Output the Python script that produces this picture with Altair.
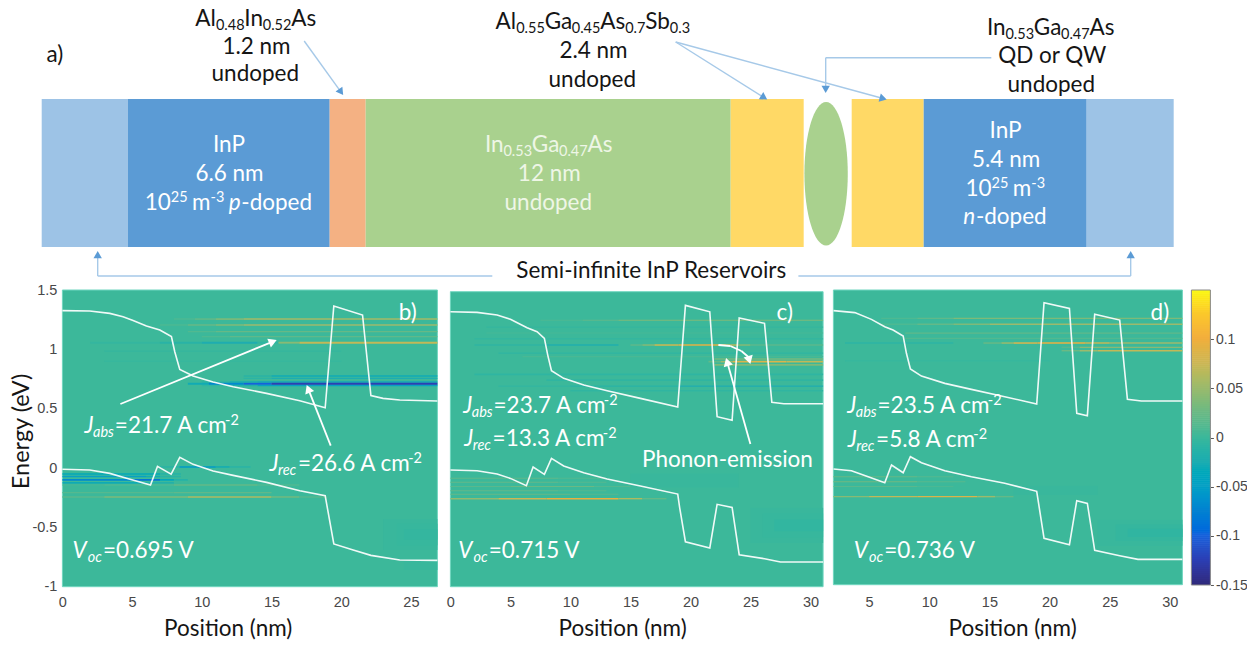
import math, re
import altair as alt
import pandas as pd

# ---------- colour scale ----------
CB_STOPS = [-0.15,-0.125,-0.1,-0.075,-0.05,-0.025,0,0.025,0.05,0.075,0.1,0.125,0.15]
CB_COLORS = ["#2f2a7d","#2a3fb5","#1462dc","#0a82d0","#08a0c4","#1eadb0","#3cb89a",
             "#6bb984","#9cba6c","#cdb654","#f2ae3c","#fbc82a","#f9fb15"]
CB_TICKS = [-0.15,-0.1,-0.05,0,0.05,0.1]
cscale = alt.Scale(domain=CB_STOPS, range=CB_COLORS, clamp=True)

# ---------- band edges, (position nm, energy eV) ----------
b_cb_x = [0,1.96,3.4,4.35,5.07,6.03,6.99,7.82,8.06,8.42,9.38,10.81,12.25,14.64,17.03,18.85,19.47,21.53,22.13,23.0,24.2,26.9]
b_cb_e = [1.326,1.323,1.303,1.275,1.242,1.197,1.163,1.107,0.98,0.831,0.775,0.725,0.685,0.629,0.567,0.508,1.365,1.289,0.61,0.587,0.573,0.565]
b_vb_x = [0,1.96,3.4,4.6,6.32,6.82,7.8,8.42,9.38,10.81,12.25,14.64,17.03,18.85,19.47,20.86,22.13,24.2,26.9]
b_vb_e = [-0.011,-0.017,-0.045,-0.087,-0.143,0.014,-0.051,0.09,0.031,-0.025,-0.062,-0.121,-0.191,-0.233,-0.64,-0.691,-0.736,-0.775,-0.778]

c_cb_x = [0,2.22,3.89,5.0,6.39,7.22,7.83,8.11,8.42,9.44,11.11,13.06,15.83,18.94,19.58,21.61,22.22,23.47,24.06,26.17,26.78,27.78,31.05]
c_cb_e = [1.33,1.325,1.302,1.266,1.195,1.161,1.105,0.963,0.83,0.766,0.709,0.661,0.596,0.523,1.384,1.33,0.441,0.41,1.277,1.232,0.562,0.551,0.551]
c_vb_x = [0,2.22,3.89,5.0,6.33,6.89,7.83,8.42,9.44,11.11,13.06,15.83,18.94,19.1,19.58,21.61,22.22,23.47,24.06,26.17,27.5,31.05]
c_vb_e = [-0.011,-0.017,-0.045,-0.082,-0.144,0.014,-0.048,0.088,0.023,-0.034,-0.088,-0.147,-0.215,-0.33,-0.619,-0.672,-0.302,-0.328,-0.729,-0.763,-0.791,-0.791]

d_cb_x = [2.04,3.81,5.19,6.3,6.99,7.83,8.1,8.43,9.35,11.29,13.5,16.27,18.93,19.54,21.65,22.26,23.14,23.75,25.83,26.47,27.63,31.04]
d_cb_e = [1.325,1.308,1.251,1.189,1.161,1.11,0.963,0.83,0.77,0.708,0.657,0.595,0.533,1.393,1.344,0.454,0.434,1.294,1.245,0.572,0.558,0.558]
d_vb_x = [2.04,3.53,4.92,6.3,6.86,7.83,8.43,9.35,11.29,13.5,16.27,18.93,19.54,21.65,22.26,23.14,23.75,25.83,27.35,31.04]
d_vb_e = [-0.019,-0.033,-0.084,-0.135,0.015,-0.05,0.086,0.035,-0.033,-0.084,-0.14,-0.208,-0.607,-0.661,-0.287,-0.31,-0.709,-0.754,-0.785,-0.785]

# ---------- spectral stripes: (energy, thickness, [(x0, x1, value), ...]) ----------
b_stripes = [
 (-0.56,0.26,[(23,26.9,-0.0015)]), (-0.56,0.18,[(24,26.9,-0.003)]), (-0.56,0.09,[(24.5,26.9,-0.005)]), (-0.82,0.08,[(24.5,26.9,-0.0015)]),
 (1.255,0.012,[(8,9.5,0.008),(9.5,11,0.022),(11,13,0.04),(13,26.9,0.055)]), (1.205,0.012,[(7,9,0.008),(9,11,0.022),(11,13,0.038),(13,26.9,0.05)]),
 (1.149,0.012,[(9,11,0.01),(11,26.9,0.022)]), (1.107,0.012,[(10,12,0.008),(12,26.9,0.018)]),
 (1.056,0.016,[(2,7,-0.005),(7,10,-0.012),(10,14,-0.025),(14,15.5,-0.008),(15.5,17,0.04),(17,26.9,0.07)]),
 (0.985,0.012,[(3,20,-0.004)]), (0.90,0.012,[(3,20,-0.003)]),
 (0.775,0.012,[(13,15,-0.012),(15,26.9,-0.03)]), (0.755,0.010,[(13,15,-0.01),(15,26.9,-0.025)]),
 (0.725,0.010,[(10,12,-0.012),(12,14,-0.03),(14,26.9,-0.055)]), (0.695,0.012,[(10,12,-0.008),(12,14,-0.02),(14,26.9,-0.05)]),
 (0.71,0.016,[(9,10.5,-0.03),(10.5,13,-0.07),(13,15,-0.1),(15,26.9,-0.125)]),
 (0.009,0.012,[(7,8.4,-0.012),(8.4,11,-0.055),(11,12,-0.03),(12,13.5,-0.012)]),
 (-0.05,0.012,[(0,7,-0.035),(7,8.5,-0.015)]), (-0.072,0.012,[(0,6,-0.05),(6,7,-0.03),(7,8.5,-0.012)]),
 (-0.10,0.014,[(0,5,-0.07),(5,7,-0.09),(7,8,-0.04),(8,9,-0.015)]), (-0.125,0.012,[(0,6,-0.04),(6,8,-0.02)]),
 (-0.143,0.010,[(0,3,0.005),(3,8,0.012),(8,14,0.03),(14,17,0.014)]), (-0.208,0.010,[(0,8,0.012),(8,15,0.018)]),
 (-0.244,0.012,[(0,3,0.015),(3,9,0.035),(9,15,0.06),(15,17,0.03),(17,19,0.012)]),
]
c_stripes = [
 (-0.48,0.30,[(25,31.05,-0.0015)]), (-0.48,0.2,[(26,31.05,-0.003)]), (-0.48,0.1,[(27,31.05,-0.006)]), (-0.1,0.12,[(15,24,-0.002)]),
 (1.258,0.010,[(7.5,11,0.008),(11,14,0.018),(14,31.05,0.035)]),
 (1.2,0.010,[(3,31.05,-0.004)]), (1.15,0.010,[(3,31.05,0.005)]), (1.10,0.012,[(2,31.05,-0.006)]),
 (1.048,0.014,[(2,8,-0.008),(8,14,-0.02),(15,16,0.015),(16,17,0.035),(17,19,0.07),(19,23,0.09),(23,24,0.06),(24,25,0.035),(25,31.05,0.015)]),
 (0.98,0.010,[(4,31.05,-0.008)]), (0.95,0.012,[(6,31.05,0.006)]),
 (0.93,0.012,[(22,31.05,0.03)]), (0.88,0.016,[(22,31.05,0.035)]),
 (0.907,0.014,[(21.5,22.5,0.02),(22.5,23.5,0.05),(23.5,28,0.085),(28,31.05,0.07)]),
 (0.80,0.014,[(2,31.05,-0.008)]), (0.75,0.014,[(8,31.05,-0.007)]),
 (0.70,0.012,[(4,10,-0.006),(10,19,-0.012),(19,31.05,-0.025)]), (0.66,0.012,[(10,31.05,-0.007)]),
 (-0.081,0.008,[(0,9,0.018),(9,13,0.01)]), (-0.115,0.008,[(0,9,0.02),(9,13,0.012)]), (-0.152,0.008,[(0,5,0.02),(5,12,0.032),(12,15,0.015)]),
 (-0.187,0.008,[(0,9,0.02),(9,13,0.012)]), (-0.217,0.008,[(0,10,0.022),(10,14,0.012)]),
 (-0.254,0.012,[(0,4,0.045),(4,8,0.075),(8,14,0.095),(14,16,0.06),(16,18,0.02)]),
]
d_stripes = [
 (-0.56,0.22,[(24,31.04,-0.002)]), (-0.56,0.14,[(25.5,31.04,-0.004)]), (-0.56,0.07,[(26.5,31.04,-0.007)]), (-0.2,0.08,[(17,24,-0.002)]),
 (1.26,0.010,[(6,9,0.008),(9,12,0.018),(12,31.04,0.035)]), (1.209,0.012,[(6,9,0.008),(9,12,0.02),(12,15,0.035),(15,31.04,0.05)]),
 (1.134,0.010,[(8,31.04,0.018)]), (1.09,0.010,[(8,31.04,0.01)]),
 (1.05,0.014,[(3,12,-0.01),(14.5,16,0.02),(16,17,0.045),(17,19,0.075),(19,23,0.095),(23,25,0.07),(25,31.04,0.05)]),
 (1.014,0.010,[(21,22.5,0.015),(22.5,31.04,0.04)]), (0.985,0.012,[(21,22.5,0.025),(22.5,24,0.05),(24,31.04,0.07)]),
 (0.9,0.012,[(3,20,-0.003)]),
 (-0.084,0.008,[(2.03,9,0.022),(9,12,0.012)]), (-0.126,0.008,[(2.03,9,0.028),(9,13,0.014)]), (-0.168,0.008,[(2.03,9,0.02),(9,12,0.01)]),
 (-0.253,0.012,[(2.03,5,0.04),(5,9,0.07),(9,14,0.085),(14,15.5,0.05),(15.5,17,0.02)]),
]

# ---------- schematic ----------
LAYER_X = [42,128,330,366,731,852,924,1087]
LAYER_X2 = [128,330,366,731,804,924,1087,1174]
LAYER_C = ["#9dc3e6","#5b9bd5","#f4b183","#a9d18e","#ffd966","#ffd966","#5b9bd5","#9dc3e6"]

BLACK, WHITE, PALE = "#151515", "#ffffff", "#eef6e6"
top_text = [
 ("a)",56,62,BLACK),
 ("Al_{0.48}In_{0.52}As",256,26,BLACK),("1.2 nm",256,54,BLACK),("undoped",256,81,BLACK),
 ("Al_{0.55}Ga_{0.45}As_{0.7}Sb_{0.3}",593,29,BLACK),("2.4 nm",593,58,BLACK),("undoped",593,87,BLACK),
 ("In_{0.53}Ga_{0.47}As",1051,35,BLACK),("QD or QW",1051,63,BLACK),("undoped",1052,92,BLACK),
 ("InP",229,152,WHITE),("6.6 nm",229,181,WHITE),("10^{25} m^{-3} *p*-doped",229,210,WHITE),
 ("In_{0.53}Ga_{0.47}As",549,152,PALE),("12 nm",549,181,PALE),("undoped",549,210,PALE),
 ("InP",1005.6,138,WHITE),("5.4 nm",1005.6,167,WHITE),("10^{25} m^{-3}",1005.6,196,WHITE),("*n*-doped",1005.6,224,WHITE),
 ("Semi-infinite InP Reservoirs",651,278,BLACK),
]
# arrows: polyline points in page pixels; the last point is the tip
top_arrows = [
 [(304.5,41),(343.5,95)],
 [(676,42),(767.5,99.5)],
 [(676,42),(887,99.5)],
 [(991.6,57.7),(826,57.7),(826,93)],
 [(492.6,276),(98,276),(98,251)],
 [(798.7,276),(1131,276),(1131,251)],
]
b_text = [("b)",409,320),("*J*_i{abs}=21.7 A cm^{-2}",162,432.7),("*J*_i{rec}=26.6 A cm^{-2}",346,470.7),("*V*_i{oc}=0.695 V",133,557.7)]
c_text = [("c)",785,320),("*J*_i{abs}=23.7 A cm^{-2}",540,412.7),("*J*_i{rec}=13.3 A cm^{-2}",540,446),("Phonon-emission",727.5,467),("*V*_i{oc}=0.715 V",518,557.7)]
d_text = [("d)",1159,320),("*J*_i{abs}=23.5 A cm^{-2}",923,412.7),("*J*_i{rec}=5.8 A cm^{-2}",916,446.7),("*V*_i{oc}=0.736 V",912.5,557.7)]
b_arrows = [[(120.7,404),(277,340)],[(331,445.7),(307,385)]]
c_arrows = [[(750,444),(725.7,358)],[(718,345),(730,346),(741,351),(748,357),(750,364)]]
d_arrows = []

# ---------- helpers ----------
W = dict(a=.507,b=.566,c=.47,d=.566,e=.53,f=.33,g=.51,h=.56,i=.24,j=.24,k=.51,l=.24,m=.83,n=.56,o=.58,p=.56,q=.56,r=.37,s=.43,t=.36,u=.56,v=.5,w=.77,x=.49,y=.5,z=.46,
         A=.68,B=.64,C=.65,D=.75,E=.58,F=.56,G=.7,H=.75,I=.26,J=.38,K=.65,L=.5,M=.9,N=.75,O=.8,P=.58,Q=.8,R=.62,S=.53,T=.58,U=.73,V=.68,W=.99)
W.update({".":.22," ":.19,"-":.37,"=":.58,")":.31,"(":.31})
for d_ in "0123456789":
    W[d_] = .58
def tw(s, size):
    return sum(W.get(ch,.55) for ch in s)*size

SZ, SSZ = 22.5, 14.5
TOK = re.compile(r'(_i?\{[^}]*\}|\^\{[^}]*\}|\*[^*]+\*|[^_^*]+)')
def layout(s, cx, base, color, size=SZ):
    parts = []
    for t in TOK.findall(s):
        if t.startswith('_i{'):  parts.append((t[3:-1],SSZ,4,True))
        elif t.startswith('_{'): parts.append((t[2:-1],SSZ,4,False))
        elif t.startswith('^{'): parts.append((t[2:-1],SSZ,-8,False))
        elif t.startswith('*'):  parts.append((t[1:-1],size,0,True))
        else:                    parts.append((t,size,0,False))
    x = cx - sum(tw(p[0],p[1]) for p in parts)/2
    rows = []
    for txt,sz,dy,it in parts:
        lead = len(txt)-len(txt.lstrip())
        rows.append(dict(px=x+tw(txt[:lead],sz),py=base+dy,t=txt.strip(),s=sz,c=color,it=it))
        x += tw(txt,sz)
    return rows

def arrow_rows(polys, hsize):
    segs, heads = [], []
    r = math.sqrt(hsize)/2; h = r*math.sqrt(3)/2
    for poly in polys:
        (ax,ay),(tx,ty) = poly[-2],poly[-1]
        L = math.hypot(tx-ax,ty-ay); ux,uy = (tx-ax)/L,(ty-ay)/L
        cx,cy = tx-ux*h,ty-uy*h
        pts = poly[:-1]+[(cx,cy)]
        for (x0,y0),(x1,y1) in zip(pts[:-1],pts[1:]):
            segs.append(dict(px=x0,py=y0,px2=x1,py2=y1))
        heads.append(dict(px=cx,py=cy,a=math.degrees(math.atan2(ux,-uy))%360))
    return segs,heads

def overlay(Xm, Ym, xe, ye, text_rows, polys, stroke, head, sw, hsize):
    """layers of arrows and text placed via the chart's own x/y scales"""
    out = []
    segs,heads = arrow_rows(polys,hsize) if polys else ([],[])
    if segs:
        df = pd.DataFrame(segs)
        df['x'],df['y'],df['x2'],df['y2'] = df.px.map(Xm),df.py.map(Ym),df.px2.map(Xm),df.py2.map(Ym)
        out.append(alt.Chart(df).mark_rule(color=stroke,strokeWidth=sw).encode(
            x=xe('x'),y=ye('y'),x2='x2:Q',y2='y2:Q'))
        dh = pd.DataFrame(heads)
        dh['x'],dh['y'] = dh.px.map(Xm),dh.py.map(Ym)
        out.append(alt.Chart(dh).mark_point(shape='triangle-up',filled=True,fill=head,opacity=1,strokeWidth=0,size=hsize).encode(
            x=xe('x'),y=ye('y'),angle=alt.Angle('a:Q',scale=None)))
    dt = pd.DataFrame(text_rows)
    dt['x'],dt['y'] = dt.px.map(Xm),dt.py.map(Ym)
    for it,style in ((False,'normal'),(True,'italic')):
        sub = dt[dt.it==it].drop(columns=['it'])
        if len(sub):
            out.append(alt.Chart(sub).mark_text(font='Lato',fontStyle=style,align='left',baseline='alphabetic',limit=0).encode(
                x=xe('x'),y=ye('y'),text='t:N',
                size=alt.Size('s:Q',scale=None,legend=None),color=alt.Color('c:N',scale=None,legend=None)))
    return out

# ---------- panel a (page-pixel scales) ----------
TOPX0,TOPX1,TOPY0,TOPY1 = 62.7,1176,8,281
txs = alt.Scale(domain=[TOPX0,TOPX1],nice=False,zero=False)
tys = alt.Scale(domain=[TOPY1,TOPY0],nice=False,zero=False)
txe = lambda f: alt.X(f+':Q',scale=txs,axis=None)
tye = lambda f: alt.Y(f+':Q',scale=tys,axis=None)
dl = pd.DataFrame(dict(x=LAYER_X,x2=LAYER_X2,y=[99]*8,y2=[247]*8,c=LAYER_C))
top_layers = [alt.Chart(dl).mark_rect().encode(
    x=txe('x'),x2='x2:Q',y=tye('y'),y2='y2:Q',fill=alt.Fill('c:N',scale=None,legend=None))]
ell = "M-0.302,0C-0.302,-0.552,-0.167,-1,0,-1C0.167,-1,0.302,-0.552,0.302,0C0.302,0.552,0.167,1,0,1C-0.167,1,-0.302,0.552,-0.302,0Z"
top_layers.append(alt.Chart(pd.DataFrame(dict(x=[826.4],y=[173.8]))).mark_point(
    shape=ell,filled=True,fill="#a9d18e",opacity=1,strokeWidth=0,size=20622).encode(x=txe('x'),y=tye('y')))
rows = []
for s,cx,b,c in top_text:
    rows += layout(s,cx,b,c)
top_layers += overlay(lambda v:v,lambda v:v,txe,tye,rows,top_arrows,"#a6c9e8","#5b9bd5",1.4,70)
top = alt.layer(*top_layers).properties(width=TOPX1-TOPX0,height=TOPY1-TOPY0)

# ---------- panels b, c, d ----------
PY0,PY1 = 290,586.7
LABELC = "#484848"
def panel(px0,px1,xdom,ydom,pe_top,pe_bot,xticks,cb,vb,stripes,texts,arrows,title_cx,yaxis=False):
    xs = alt.Scale(domain=xdom,nice=False,zero=False)
    ys = alt.Scale(domain=ydom,nice=False,zero=False)
    Xm = lambda p: xdom[0]+(p-px0)/(px1-px0)*(xdom[1]-xdom[0])
    Ym = lambda p: ydom[1]-(p-PY0)/(PY1-PY0)*(ydom[1]-ydom[0])
    xaxis = alt.Axis(values=xticks,title="Position (nm)",ticks=False,domain=False,grid=False,labelFont="Liberation Sans",
        labelFontSize=14.5,labelColor=LABELC,labelPadding=9,labelOverlap=False,labelBound=False,labelFlush=False,
        labelExpr="'' + datum.value",
        titleFont="Lato",titleFontSize=22.5,titleFontWeight="normal",titleColor=BLACK,
        titleX=title_cx-px0,titleY=636-PY1,titleBaseline="alphabetic",titleAlign="center")
    ya = alt.Axis(values=[-1,-0.5,0,0.5,1,1.5],title="Energy (eV)",ticks=False,domain=False,grid=False,labelFont="Liberation Sans",
        labelFontSize=14.5,labelColor=LABELC,labelPadding=5.5,labelOverlap=False,labelBound=False,labelFlush=False,
        labelExpr="'' + datum.value",
        titleFont="Lato",titleFontSize=23.5,titleFontWeight="normal",titleColor=BLACK,
        titleX=29-px0,titleY=431-PY0,titleAngle=270,titleBaseline="alphabetic",titleAlign="center") if yaxis else None
    xe = lambda f: alt.X(f+':Q',scale=xs,axis=xaxis,title="Position (nm)")
    ye = lambda f: alt.Y(f+':Q',scale=ys,axis=ya,title="Energy (eV)" if yaxis else None)
    bg = pd.DataFrame(dict(x=[xdom[0]],x2=[xdom[1]],y=[pe_bot],y2=[pe_top],v=[0.0]))
    ls = [alt.Chart(bg).mark_rect(stroke="#6fd6c0",strokeWidth=1).encode(
        x=xe('x'),x2='x2:Q',y=ye('y'),y2='y2:Q',fill=alt.Fill('v:Q',scale=cscale,legend=None))]
    sr = []
    for n,(e,t,segs) in enumerate(stripes):
        for x0,x1,v in segs:
            sr.append(dict(o=n,x=x0,x2=x1,y=e-t/2,y2=e+t/2,v=v))
    ls.append(alt.Chart(pd.DataFrame(sr)).mark_rect(strokeWidth=0).encode(
        x=xe('x'),x2='x2:Q',y=ye('y'),y2='y2:Q',fill=alt.Fill('v:Q',scale=cscale,legend=None)))
    ln = pd.DataFrame([dict(x=a,e=b,k='cb',o=i) for i,(a,b) in enumerate(zip(*cb))]+
                      [dict(x=a,e=b,k='vb',o=i) for i,(a,b) in enumerate(zip(*vb))])
    ls.append(alt.Chart(ln).mark_line(color="#ffffff",strokeWidth=1.6,opacity=0.92).encode(
        x=xe('x'),y=ye('e'),detail='k:N',order='o:Q'))
    rows = []
    for s,cx,b in texts:
        rows += layout(s,cx,b,WHITE)
    ls += overlay(Xm,Ym,xe,ye,rows,arrows,"#ffffff","#ffffff",1.8,90)
    return alt.layer(*ls).properties(width=px1-px0,height=PY1-PY0)

pb = panel(62.7,437.7,[0,26.9],[-1,1.5],1.5,-1,[0,5,10,15,20,25],(b_cb_x,b_cb_e),(b_vb_x,b_vb_e),b_stripes,b_text,b_arrows,228,True)
pc = panel(450,822.7,[0,31.05],[-1,1.5144],1.5,-1,[0,5,10,15,20,25,30],(c_cb_x,c_cb_e),(c_vb_x,c_vb_e),c_stripes,c_text,c_arrows,621.7)
pd_ = panel(832,1181,[2.03,31.04],[-1.017,1.5],1.5,-1,[5,10,15,20,25,30],(d_cb_x,d_cb_e),(d_vb_x,d_vb_e),d_stripes,d_text,d_arrows,1010.7)

# ---------- colour bar ----------
cb_vals = [v/1000 for v in range(-150,150,2)]
cbd = pd.DataFrame(dict(y=cb_vals,y2=[v+0.0026 if v<0.147 else 0.15 for v in cb_vals],v=cb_vals))
cys = alt.Scale(domain=[-0.1517,0.15],nice=False,zero=False)
cba = alt.Axis(orient='right',values=CB_TICKS,title=None,tickSize=3,tickColor="#555555",domain=False,grid=False,
    labelFont="Liberation Sans",labelFontSize=14,labelColor=LABELC,labelPadding=2,labelOverlap=False,labelBound=False,labelFlush=False,
    labelExpr="'' + datum.value")
cbar = alt.layer(
    alt.Chart(cbd).mark_rect(strokeWidth=0).encode(x=alt.value(0),x2=alt.value(19),
        y=alt.Y('y:Q',scale=cys,axis=cba),y2='y2:Q',fill=alt.Fill('v:Q',scale=cscale,legend=None)),
    alt.Chart(pd.DataFrame(dict(y=[-0.15],y2=[0.15]))).mark_rect(fillOpacity=0,stroke="#8a8a8a",strokeWidth=1).encode(
        x=alt.value(0),x2=alt.value(19),y=alt.Y('y:Q',scale=cys,axis=cba),y2='y2:Q'),
).properties(width=19,height=PY1-PY0)

def spacer(w):
    return alt.Chart(pd.DataFrame(dict(a=[0]))).mark_point(opacity=0).encode(x=alt.value(0),y=alt.value(0)).properties(width=w,height=10)

row = alt.hconcat(pb,spacer(12.3),pc,spacer(9.3),pd_,spacer(9),cbar,spacing=0,bounds="flush")
chart = alt.vconcat(top,row,spacing=-1).properties(padding={"left":1.4,"top":0,"right":0,"bottom":0},background="white"
    ).configure_view(stroke=None)
chart.save("out.html", embed_options={"renderer": "svg", "actions": False})
